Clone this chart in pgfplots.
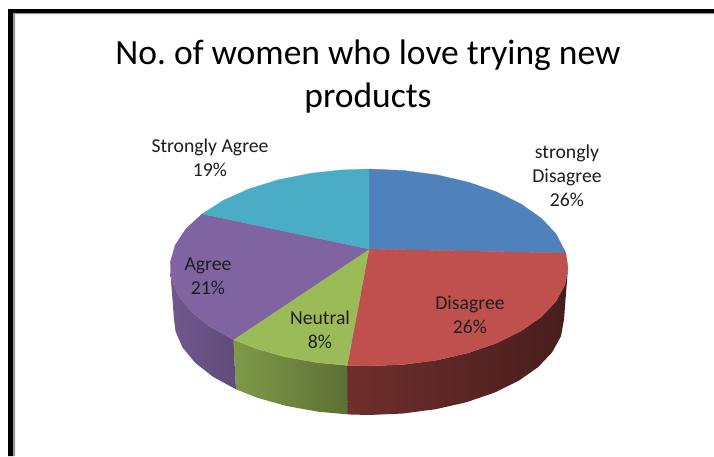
\documentclass[border=0pt]{standalone}
\usepackage{fontspec}
\setmainfont{Carlito}
\usepackage{pgfplots}
\pgfplotsset{compat=1.18}

\definecolor{cblue}{HTML}{4F81BD}
\definecolor{cred}{HTML}{C0504D}
\definecolor{cgreen}{HTML}{9BBB59}
\definecolor{cpurple}{HTML}{8064A2}
\definecolor{cteal}{HTML}{4BACC6}
\definecolor{txt}{HTML}{1E1E1E}

\tikzset{lab/.style={text=txt,align=center,font=\fontsize{19.7}{24}\selectfont}}

\begin{document}
\frenchspacing
\begin{tikzpicture}
\begin{axis}[
    hide axis,
    scale only axis,
    width=714pt,
    height=456pt,
    xmin=0,xmax=714,ymin=0,ymax=456,
    y dir=reverse,
    clip=false,
    every axis plot/.append style={forget plot},
]
% white sheet, keeps the page at full size
\addplot[draw=none,fill=white] coordinates {(0,0) (714,0) (714,456) (0,456)} --cycle;
% frame, open at the right and at the bottom
\addplot[draw=none,fill=black] coordinates {(8,9) (714,9) (714,13) (13,13) (13,456) (8,456)} --cycle;
\addplot[draw=none,fill=gray!80] coordinates {(13,13) (714,13) (714,14) (15,14) (15,456) (13,456)} --cycle;

% side walls, pixel positions
\addplot[draw=none,left color=black!42!cred,middle color=black!58!cred,right color=black!63!cred] coordinates {
(568,267.5) (565,284.6) (556,301.2) (541.3,316.8) (521.4,330.8) (496.9,343) (468.5,352.8) (437.1,360.1) (403.5,364.5) (369,366) (347.2,365.4)
(347.6,414.4) (369,415) (402.9,413.5) (435.7,409.2) (466.5,402.2) (494.3,392.7) (518.4,380.9) (537.9,367.3) (552.2,352.2) (561,336.1) (564,319.5)
} --cycle;
\addplot[draw=none,left color=black!18!cgreen,right color=black!40!cgreen] coordinates {
(347.2,365.4) (317.5,362.6) (284.9,356.8) (254.9,348.2) (233.3,339.5)
(236,389.3) (257.1,397.7) (286.6,406) (318.5,411.7) (347.6,414.4)
} --cycle;
\addplot[draw=none,left color=black!12!cpurple,right color=black!25!cpurple] coordinates {
(233.3,339.5) (210.1,326.8) (191.7,312.2) (178.7,296.3) (171.5,279.5) (170,267.5)
(174,319.5) (175.5,331.1) (182.5,347.4) (195.3,362.9) (213.3,377) (236,389.3)
} --cycle;

% top face wedges
\addplot[draw=cblue,line width=0.3pt,fill=cblue] coordinates {
(369,249) (369,169) (403.5,170.5) (437.1,174.9) (468.5,182.2) (496.9,192) (521.4,204.2) (541.3,218.3) (556,233.8) (565.8,253)
} --cycle;
\addplot[draw=cred,line width=0.3pt,fill=cred] coordinates {
(369,249) (565.8,253) (568,267.5) (565,284.6) (556,301.2) (541.3,316.8) (521.4,330.8) (496.9,343) (468.5,352.8) (437.1,360.1) (403.5,364.5) (369,366) (347.2,365.4)
} --cycle;
\addplot[draw=cgreen,line width=0.3pt,fill=cgreen] coordinates {
(369,249) (347.2,365.4) (317.5,362.6) (284.9,356.8) (254.9,348.2) (233.3,339.5)
} --cycle;
\addplot[draw=cpurple,line width=0.3pt,fill=cpurple] coordinates {
(369,249) (233.3,339.5) (210.1,326.8) (191.7,312.2) (178.7,296.3) (171.5,279.5) (170.3,262.3) (175.1,245.3) (185.8,229) (202.1,213.9)
} --cycle;
\addplot[draw=cteal,line width=0.3pt,fill=cteal] coordinates {
(369,249) (202.1,213.9) (223.5,200.3) (249.2,188.8) (278.7,179.7) (310.8,173.3) (341.3,170) (369,169)
} --cycle;

% title and labels
\node[text=black,align=center,font=\fontsize{35.5}{43}\selectfont] at (axis cs:368,77) {No. of women who love trying new\\products};
\node[lab] at (axis cs:210,158) {Strongly Agree\\19\%};
\node[lab] at (axis cs:567,176) {strongly\\Disagree\\26\%};
\node[lab] at (axis cs:470,315) {Disagree\\26\%};
\node[lab] at (axis cs:320,330) {Neutral\\8\%};
\node[lab] at (axis cs:208,276) {Agree\\21\%};
\end{axis}
\end{tikzpicture}
\end{document}
